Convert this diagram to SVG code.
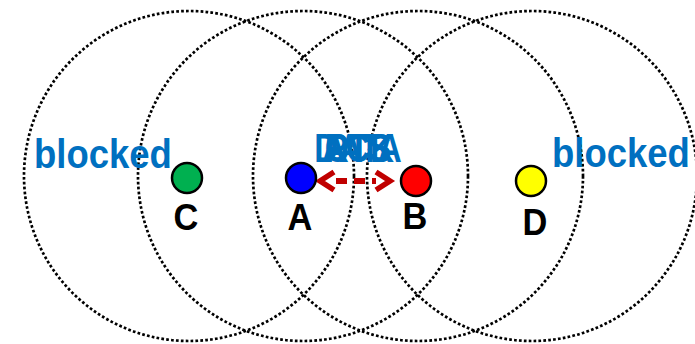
<svg xmlns="http://www.w3.org/2000/svg" width="695" height="344" viewBox="0 0 695 344">
<style>
.range{fill:none;stroke:#000;stroke-width:2.7;stroke-dasharray:2.7 2.2}
.node{stroke:#000;stroke-width:2.5}
.lbl{font-family:"Liberation Sans",Arial,sans-serif;font-weight:bold;font-size:37px;fill:#000;text-anchor:middle}
.blue{font-family:"Liberation Sans",Arial,sans-serif;font-weight:bold;font-size:41px;fill:#0070c0}
.msg{font-family:"Liberation Sans",Arial,sans-serif;font-weight:bold;font-size:40px;fill:#0070c0;text-anchor:middle}
.arr{fill:none;stroke:#c00000;stroke-width:6}
.head{fill:none;stroke:#c00000;stroke-width:5.5;stroke-linejoin:miter}
</style>
<rect width="695" height="344" fill="#fff"/>
<g id="ranges">
<circle class="range" cx="189" cy="176" r="165"/>
<circle class="range" cx="303" cy="176" r="165"/>
<circle class="range" cx="418" cy="176" r="165"/>
<circle class="range" cx="532" cy="176" r="165"/>
</g>
<g id="blocked-left"><text class="blue" transform="translate(34,168) scale(0.89,1)">blocked</text></g>
<g id="blocked-right"><text class="blue" transform="translate(552,167) scale(0.89,1)">blocked</text></g>
<g id="messages" transform="translate(358,162) scale(0.83,1)">
<text class="msg">RTS</text>
<text class="msg">CTS</text>
<text class="msg">DATA</text>
<text class="msg">ACK</text>
</g>
<g id="connectors">
<line class="arr" x1="336" y1="181" x2="376" y2="181" stroke-dasharray="11 7"/>
<polyline class="head" points="334,172 320,181 334,190"/>
<polyline class="head" points="376,172 390,181 376,190"/>
</g>
<g id="node-C"><circle class="node" cx="187" cy="178" r="15" fill="#00b050"/><text class="lbl" transform="translate(186,230) scale(0.93,1)">C</text></g>
<g id="node-A"><circle class="node" cx="301" cy="178" r="15" fill="#0000ff"/><text class="lbl" transform="translate(300,230) scale(0.93,1)">A</text></g>
<g id="node-B"><circle class="node" cx="416" cy="181" r="15" fill="#ff0000"/><text class="lbl" transform="translate(415,229) scale(0.93,1)">B</text></g>
<g id="node-D"><circle class="node" cx="531" cy="181" r="15" fill="#ffff00"/><text class="lbl" transform="translate(535,235) scale(0.93,1)">D</text></g>
</svg>
